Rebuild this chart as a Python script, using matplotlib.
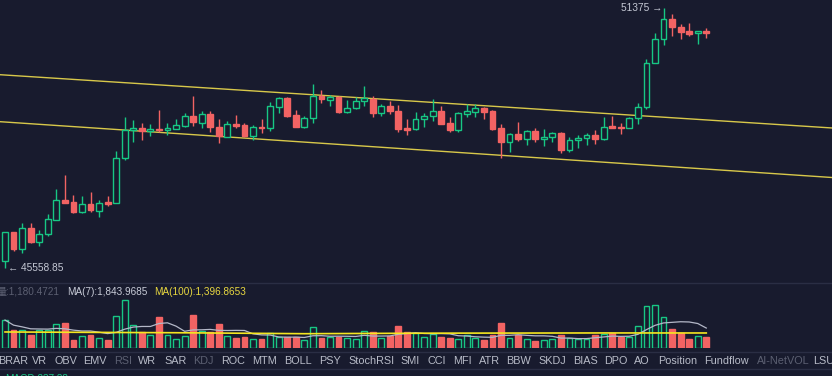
import numpy as np
import pandas as pd
import matplotlib
matplotlib.use("Agg")
import matplotlib.pyplot as plt

# candle data
opens = [45715, 46364, 45984, 46454, 46139, 46319, 46633, 47080, 47035, 46812,
         46991, 46834, 47035, 47013, 48020, 48646, 48691, 48624, 48668, 48655,
         48668, 48735, 48959, 48803, 49004, 48713, 48489, 48780, 48758, 48512,
         48713, 48691, 49160, 49362, 48981, 48713, 48914, 49406, 49317, 49384,
         49049, 49138, 49295, 49339, 49026, 49183, 49071, 48691, 48668, 48892,
         48959, 49071, 48803, 48646, 49004, 49049, 49138, 49071, 48691, 48377,
         48556, 48445, 48624, 48445, 48489, 48579, 48198, 48422, 48467, 48534,
         48445, 48735, 48713, 48691, 48914, 49160, 50145, 50682, 51129, 50950,
         50861, 50816, 50861]
highs = [46364, 46364, 46565, 46565, 46409, 46767, 47326, 47639, 47192, 47169,
         47259, 47080, 47169, 48176, 48937, 48870, 48803, 48780, 49093, 48803,
         48892, 49026, 49406, 49071, 49071, 48892, 48847, 48981, 48803, 48758,
         48892, 49272, 49384, 49384, 49093, 48959, 49675, 49541, 49429, 49406,
         49317, 49384, 49630, 49406, 49228, 49295, 49205, 48892, 49049, 49026,
         49339, 49183, 48937, 49049, 49228, 49228, 49160, 49093, 48780, 48579,
         48825, 48646, 48691, 48668, 48601, 48601, 48489, 48534, 48579, 48646,
         48937, 48959, 48803, 48937, 49250, 50234, 50816, 51375, 51241, 51017,
         51040, 50861, 50928]
lows = [45558.85, 45939, 45894, 46118, 46051, 46275, 46633, 47013, 46789, 46789,
        46812, 46700, 46946, 47013, 47975, 48377, 48422, 48512, 48601, 48534,
        48668, 48713, 48735, 48691, 48601, 48355, 48489, 48691, 48489, 48422,
        48579, 48624, 49026, 48937, 48713, 48691, 48803, 49250, 49183, 49026,
        49026, 49116, 49183, 48937, 48959, 49004, 48601, 48534, 48646, 48713,
        48847, 48780, 48601, 48601, 48937, 48937, 48892, 48646, 48020, 48154,
        48400, 48310, 48377, 48288, 48377, 48131, 48154, 48243, 48310, 48333,
        48422, 48691, 48556, 48691, 48780, 49116, 50145, 50547, 50749, 50682,
        50749, 50570, 50704]
closes = [46364, 45984, 46454, 46139, 46319, 46655, 47080, 47013, 46812, 46991,
          46856, 47013, 46991, 48020, 48646, 48691, 48624, 48668, 48646, 48668,
          48758, 48959, 48825, 49004, 48713, 48512, 48780, 48735, 48512, 48713,
          48691, 49183, 49362, 48959, 48713, 48914, 49406, 49339, 49384, 49049,
          49138, 49295, 49362, 49026, 49183, 49071, 48668, 48646, 48892, 48959,
          49071, 48780, 48646, 49026, 49071, 49138, 49049, 48668, 48377, 48556,
          48445, 48624, 48445, 48489, 48579, 48198, 48422, 48467, 48534, 48445,
          48713, 48691, 48691, 48914, 49160, 50145, 50682, 51129, 50950, 50838,
          50793, 50861, 50816]
volumes = [2600, 1650, 1650, 1240, 1700, 1700, 2230, 2330, 780, 1090,
           1240, 930, 780, 3010, 4430, 2140, 1490, 1240, 2850, 1240,
           840, 1090, 3040, 1550, 1490, 2230, 1150, 930, 1020, 840,
           870, 1400, 990, 990, 990, 780, 1950, 930, 1020, 1020,
           930, 870, 1550, 1460, 930, 1090, 2080, 1460, 1400, 1020,
           1300, 1020, 930, 870, 1240, 930, 780, 1180, 2330, 930,
           1240, 840, 620, 780, 870, 1180, 930, 870, 870, 1180,
           1300, 1400, 1020, 1020, 2080, 3940, 3970, 2880, 1800, 1400,
           870, 1090, 990]

# volume MA(100) readings (longer history not visible)
ma100_idx = [0, 20, 35, 50, 70, 82]
ma100_val = [1490, 1420, 1330, 1380, 1400, 1397]

# channel lines
chan_x = [-0.6, 96.7]
chan_upper = [49883, 48691]
chan_lower = [48832, 47583]

tabs = ["BRAR", "VR", "OBV", "EMV", "RSI", "WR", "SAR", "KDJ", "ROC", "MTM",
        "BOLL", "PSY", "StochRSI", "SMI", "CCI", "MFI", "ATR", "BBW", "SKDJ",
        "BIAS", "DPO", "AO", "Position", "Fundflow", "AI-NetVOL", "LSU"]
tab_x = [-2, 32, 54, 83, 114, 138, 164, 193, 221, 252, 284, 319, 348, 400,
         427, 453, 479, 506, 538, 573, 604, 634, 658, 704, 757, 813]
dim_tabs = ["RSI", "KDJ", "AI-NetVOL"]

BG = "#181b2e"
GREEN = "#17c784"
RED = "#f26363"
GRID = "#2a2e44"
FONT = ["Liberation Sans", "DejaVu Sans"]

W, H = 832, 376
fig = plt.figure(figsize=(W / 100, H / 100), dpi=100, facecolor=BG)


def px_axes(top, bottom):
    return fig.add_axes([0, 1 - bottom / H, 1, (bottom - top) / H])


x = np.arange(len(opens))
o = np.array(opens, float)
c = np.array(closes, float)
up = c >= o
colors = np.where(up, GREEN, RED)

# main candle chart
ax = px_axes(0, 283)
ax.set_facecolor(BG)
ax.vlines(x, lows, highs, colors=colors, lw=1, zorder=1)
body_h = np.maximum(np.abs(c - o), 25)
ax.bar(x, body_h, bottom=np.minimum(o, c), width=0.68,
       color=np.where(up, BG, RED), edgecolor=colors, linewidth=1, zorder=2)
ax.plot(chan_x, chan_upper, color="#d8c84a", lw=1, zorder=0)
ax.plot(chan_x, chan_lower, color="#d8c84a", lw=1, zorder=0)
ax.set_xlim(-0.585, 96.7)
ax.set_ylim(45223, 51554)
ax.axis("off")

i_lo = int(np.argmin(lows))
i_hi = int(np.argmax(highs))
ax.text(i_lo + 0.35, lows[i_lo], "\u2190 45558.85", color="#c4c8d4",
        fontsize=7.3, family=FONT, ha="left", va="center")
ax.text(i_hi - 0.15, highs[i_hi], "51375 \u2192", color="#c4c8d4",
        fontsize=7.3, family=FONT, ha="right", va="center")

# volume pane
vax = px_axes(296, 348)
vax.set_facecolor(BG)
vax.bar(x, volumes, width=0.68, color=np.where(up, BG, RED),
        edgecolor=colors, linewidth=1)
ma7 = pd.Series(volumes).rolling(7, min_periods=1).mean()
vax.plot(x, ma7, color="#b4b8c8", lw=0.9)
vax.plot(ma100_idx, ma100_val, color="#f5e620", lw=1.2)
vax.set_xlim(-0.585, 96.7)
vax.set_ylim(0, 4836)
vax.axis("off")

# separators
for yy in [283, 352, 369]:
    fig.add_artist(plt.Line2D([0, 1], [1 - yy / H, 1 - yy / H],
                              color=GRID, lw=1))

cjk = ["Liberation Sans", "Noto Sans CJK SC"]
fig.text(60 / W, 1 - 292 / H, "\u91cf:1,180.4721", color="#5c6072",
         fontsize=7.2, family=cjk, ha="right", va="center")
fig.text(67 / W, 1 - 292 / H, "MA(7):1,843.9685", color="#c8ccd8",
         fontsize=7.2, family=FONT, ha="left", va="center")
fig.text(154 / W, 1 - 292 / H, "MA(100):1,396.8653", color="#e8d840",
         fontsize=7.2, family=FONT, ha="left", va="center")

for name, tx in zip(tabs, tab_x):
    col = "#5c6072" if name in dim_tabs else "#b8bcc8"
    fig.text(tx / W, 1 - 361 / H, name, color=col, fontsize=7.8,
             family=FONT, ha="left", va="center")

fig.text(5 / W, 1 - 379 / H, "MACD:237.88", color=GREEN, fontsize=7.2,
         family=FONT, ha="left", va="center")

fig.savefig("out.png", dpi=100, facecolor=BG)
